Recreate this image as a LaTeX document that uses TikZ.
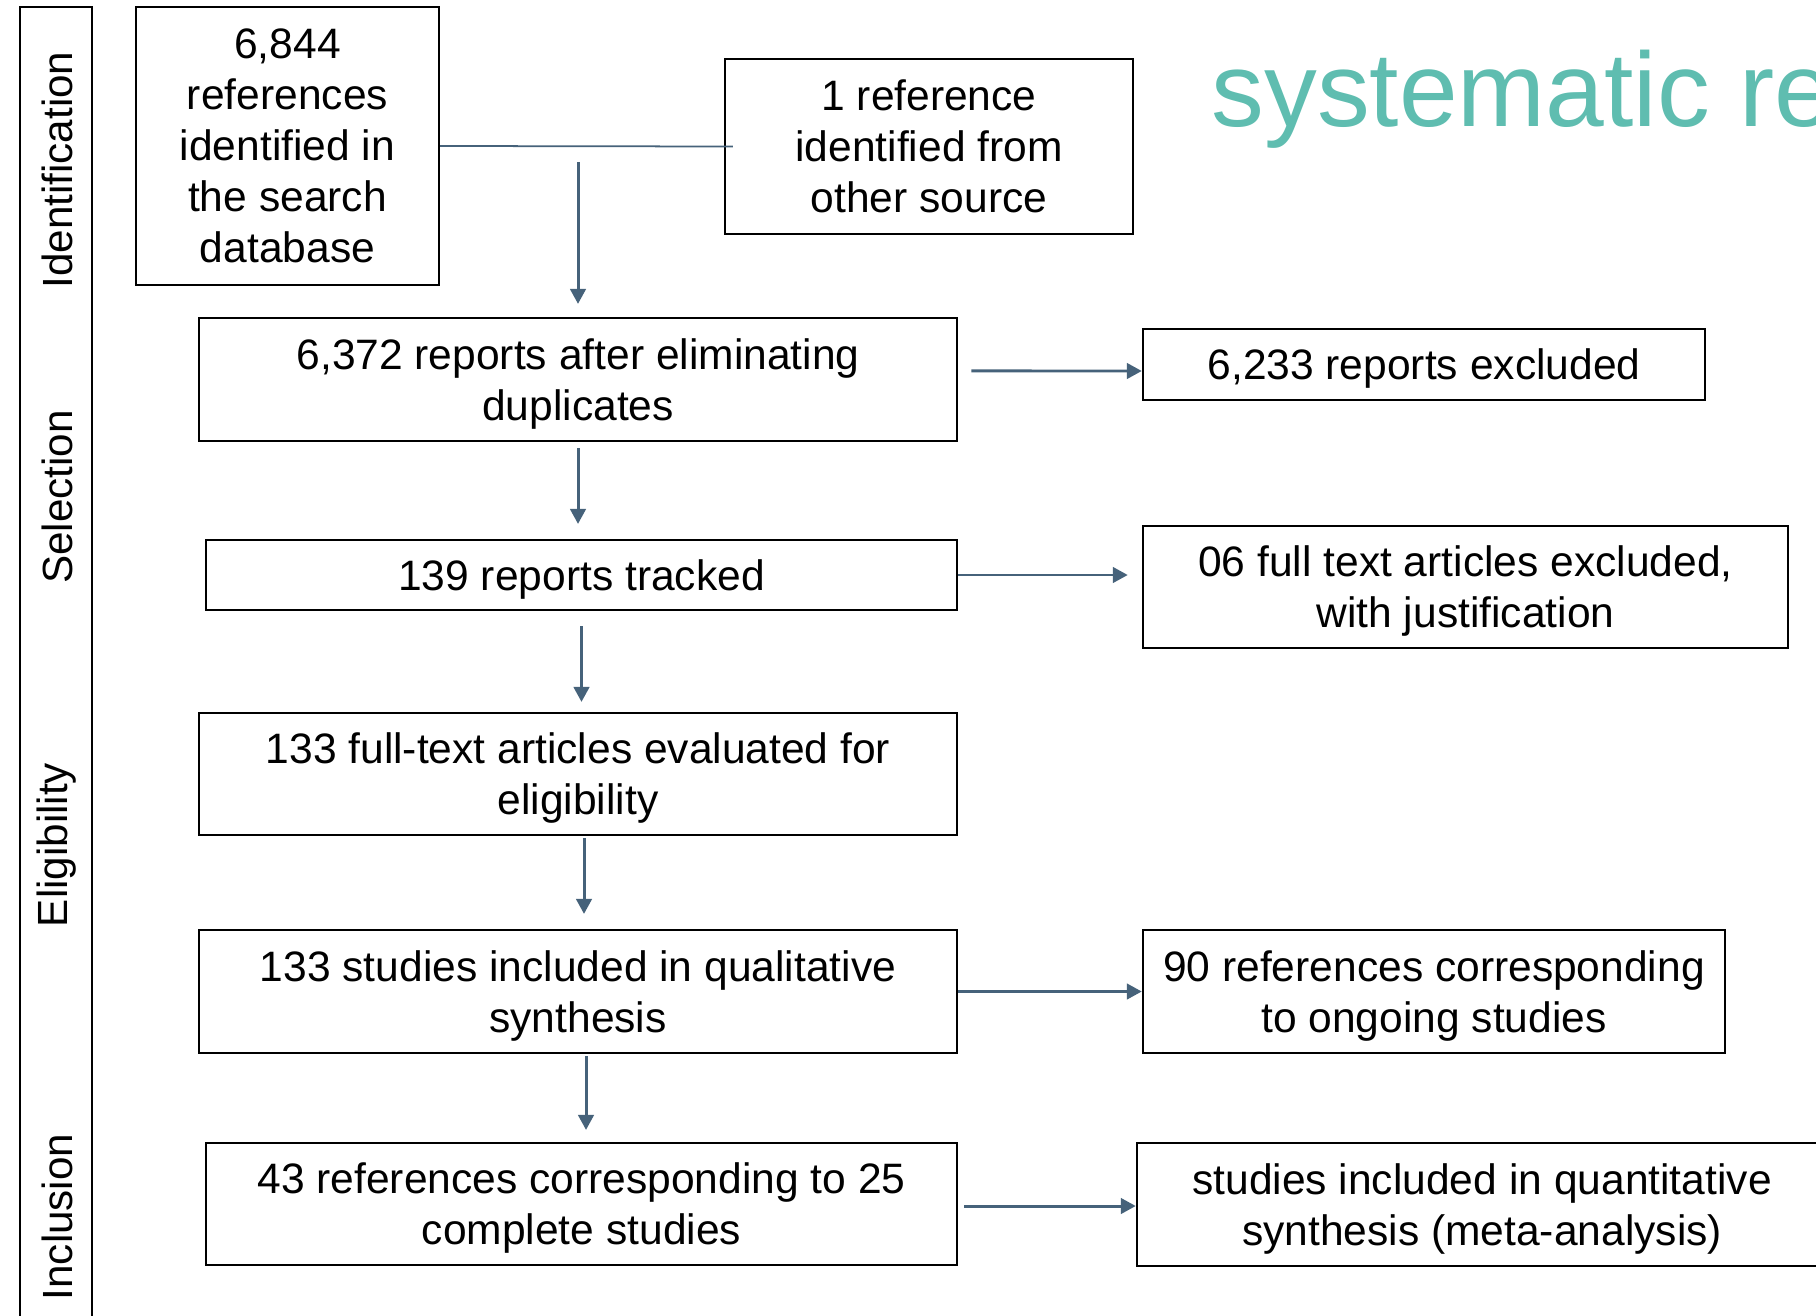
\documentclass[tikz,border=0pt]{standalone}
\usepackage{fontspec}
\setmainfont{Liberation Sans}
\usetikzlibrary{arrows.meta}
\definecolor{arrowc}{HTML}{46627A}
\definecolor{titlecol}{HTML}{5FBDB0}
\tikzset{
	box/.style={draw, line width=0.6pt, inner sep=0pt, text depth=0pt, align=center, font=\fontsize{12.1}{14.5}\selectfont},
	arr/.style={draw=arrowc, line width=0.85pt, -{Triangle[width=0.155cm,length=0.15cm]}},
	phase/.style={rotate=90, inner sep=0pt, font=\fontsize{12}{14}\selectfont},
}
\begin{document}
\begin{tikzpicture}[x=0.01cm, y=-0.01cm]
			\useasboundingbox (0,0) rectangle (1816,1316);

			\node[anchor=base west, inner sep=0pt, text=titlecol, font=\fontsize{30}{36}\selectfont] (ttl) at(1211, 127){systematic re};

			\draw[line width=0.6pt](20, 7) rectangle (92, 1330);
				\node[phase] (ident) at(57, 170){Identification};
				\node[phase] (selec) at(57, 497){Selection};
				\node[phase] (elig) at(57, 845){Eligibility};
				\node[phase] (incl) at(57, 1217){Inclusion};

			\node[box, minimum width=3.03cm, minimum height=2.78cm] (A) at(287.5, 146){6,844\\references\\identified in\\the search\\database};
			\node[box, minimum width=4.08cm, minimum height=1.75cm] (B) at(929, 146.5){1 reference\\identified from\\other source};

			\node[box, minimum width=7.58cm, minimum height=1.23cm] (C) at(578, 379.5){6,372 reports after eliminating\\duplicates};
				\node[box, minimum width=5.62cm, minimum height=0.71cm] (D) at(1424, 364.5){6,233 reports excluded};
			\node[box, minimum width=7.51cm, minimum height=0.70cm] (E) at(581.5, 575){139 reports tracked};
				\node[box, minimum width=6.45cm, minimum height=1.22cm] (F) at(1465.5, 587){06 full text articles excluded,\\with justification};
			\node[box, minimum width=7.58cm, minimum height=1.22cm] (G) at(578, 774){133 full-text articles evaluated for\\eligibility};
			\node[box, minimum width=7.58cm, minimum height=1.23cm] (H) at(578, 991.5){133 studies included in qualitative\\synthesis};
				\node[box, minimum width=5.82cm, minimum height=1.23cm] (I) at(1434, 991.5){90 references corresponding\\to ongoing studies};
			\node[box, minimum width=7.51cm, minimum height=1.22cm] (J) at(581.5, 1204){43 references corresponding to 25\\complete studies};
				\node[box, minimum width=6.90cm, minimum height=1.23cm] (K) at(1482, 1204.5){studies included in quantitative\\synthesis (meta-analysis)};

			\draw[draw=arrowc, line width=0.5pt, shorten >=-0.09cm](A.east) to (B.west);
			\coordinate (AB) at(578, 162);
			\draw[arr, shorten >=0.13cm](AB) to (C.north);

			\draw[arr]([xshift=0.13cm, yshift=0.085cm]C.east) to ([yshift=-0.065cm]D.west);
			\draw[arr, shorten <=0.06cm, shorten >=0.15cm](C.south) to (C.south |- E.north);
			\draw[arr, shorten >=0.14cm](E.east) to (E.east -| F.west);
			\draw[arr, shorten <=0.15cm, shorten >=0.10cm](E.south) to (E.south |- G.north);
			\draw[arr, shorten <=0.02cm, shorten >=0.15cm]([xshift=0.06cm]G.south) to ([xshift=0.06cm]G.south |- H.north);
			\draw[arr](H.east) to (H.east -| I.west);
			\draw[arr, shorten <=0.02cm, shorten >=0.12cm]([xshift=0.08cm]H.south) to ([xshift=0.08cm]H.south |- J.north);
			\draw[arr, shorten <=0.06cm]([yshift=-0.02cm]J.east) to ([yshift=-0.02cm]J.east -| K.west);
\end{tikzpicture}
\end{document}
